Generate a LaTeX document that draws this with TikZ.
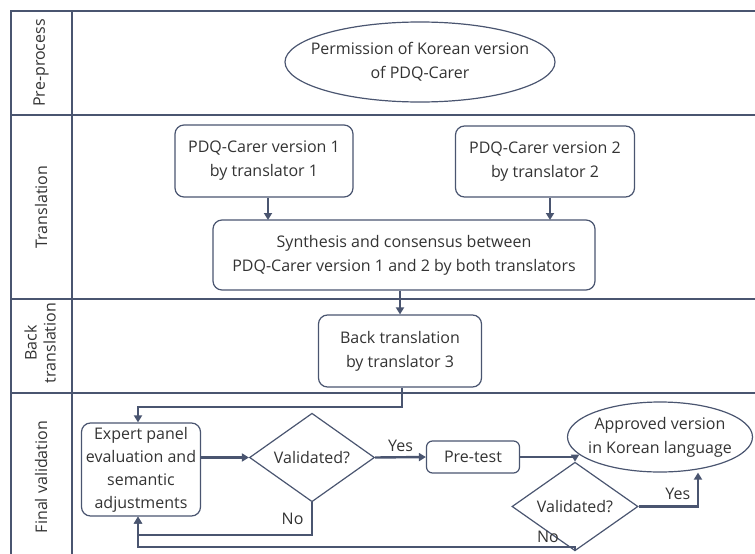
\documentclass[tikz,border=0pt]{standalone}
\usepackage{fontspec}
\setmainfont{Open Sans}
\usetikzlibrary{shapes.geometric,arrows.meta}
\definecolor{ln}{HTML}{4A5570}
\definecolor{tx}{HTML}{333333}
\tikzset{
  frame/.style={draw=ln, line width=1.3pt},
  rbox/.style={draw=ln, line width=1.2pt, rounded corners=9pt, align=center, inner sep=0pt, text=tx, font=\fontsize{16}{24}\selectfont},
  ell/.style={draw=ln, line width=1.2pt, ellipse, align=center, inner xsep=-40pt, inner ysep=-20pt, text=tx, font=\fontsize{16}{24}\selectfont},
  dia/.style={draw=ln, line width=1.2pt, diamond, align=center, inner sep=0pt, text=tx, font=\fontsize{16}{24}\selectfont},
  conn/.style={draw=ln, line width=2.4pt, -{Triangle[length=7pt,width=8pt]}},
  lane/.style={rotate=90, align=center, text=tx, font=\fontsize{16}{19}\selectfont},
  lbl/.style={text=tx, font=\fontsize{16}{19}\selectfont},
}
\begin{document}
\begin{tikzpicture}[x=1pt,y=-1pt]
\useasboundingbox (0,0) rectangle (755,554);
% frame
\draw[frame] (755,11) -- (11,11) -- (11,554);
\draw[frame] (72,11) -- (72,554);
\draw[frame] (11,115) -- (755,115);
\draw[frame] (11,299) -- (755,299);
\draw[frame] (11,393) -- (755,393);
% lane labels
\node[lane] (l1) at (41,63) {Pre-process};
\node[lane] (l2) at (41,207) {Translation};
\node[lane] (l3) at (40,343) {Back\\translation};
\node[lane] (l4) at (41,477) {Final validation};
% nodes
\node[ell, minimum width=270pt, minimum height=80pt] (perm) at (420,62) {Permission of Korean version\\of PDQ-Carer};
\node[rbox, minimum width=178pt, minimum height=72pt] (b1) at (264,161) {PDQ-Carer version 1\\by translator 1};
\node[rbox, minimum width=179pt, minimum height=71pt] (b2) at (545,161.5) {PDQ-Carer version 2\\by translator 2};
\node[rbox, minimum width=382pt, minimum height=70pt] (syn) at (404,255) {Synthesis and consensus between\\PDQ-Carer version 1 and 2 by both translators};
\node[rbox, minimum width=163pt, minimum height=72pt] (bt) at (400,351) {Back translation\\by translator 3};
\node[rbox, minimum width=119pt, minimum height=93pt, font=\fontsize{16}{23}\selectfont] (exp) at (141,469.5) {Expert panel\\evaluation and\\semantic\\adjustments};
\node[dia, minimum width=125pt, minimum height=81pt] (d1) at (312,457.5) {Validated?};
\node[rbox, rounded corners=6pt, minimum width=93pt, minimum height=32pt] (pt) at (473,457) {Pre-test};
\node[dia, minimum width=126pt, minimum height=59pt] (d2) at (575,506.5) {Validated?};
\node[ell, minimum width=185pt, minimum height=70pt] (ap) at (660,437) {Approved version\\in Korean language};
% connector coordinates
\coordinate (c1) at (402,407);
\coordinate (n1) at (312,535);
\coordinate (n2) at (575,547);
% connectors
\draw[conn] (b1.south -| 268,0) -- (268,220);
\draw[conn] (b2.south -| 550,0) -- (550,220);
\draw[conn] (syn.south -| bt.north) -- (bt.north);
\draw[conn] (bt.south -| c1) -- (c1) -| (exp.north -| 138,0);
\draw[conn] (exp.east |- d1.west) -- (d1.west);
\draw[conn] (d1.east) -- node[lbl, above, yshift=1pt] {Yes} (pt.west);
\draw[conn] (pt.east) -| (d2.north);
\draw[conn] (d2.east) -| node[lbl, pos=0.33, above, yshift=2pt] {Yes} (ap.south -| 698,0);
\draw[conn] (d1.south) -- node[lbl, left, pos=0.5, xshift=-4pt] {No} (n1) -| (exp.south -| 138,0);
\draw[conn] (d2.south) -- (n2) -| (exp.south -| 138,0);
\node[lbl] (no2) at (548,537) {No};
\end{tikzpicture}
\end{document}
